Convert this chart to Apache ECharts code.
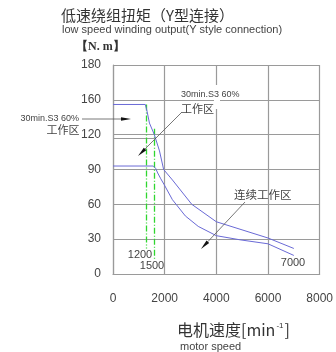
<!DOCTYPE html>
<html><head><meta charset="utf-8">
<script src="https://cdn.jsdelivr.net/npm/echarts@6/dist/echarts.min.js"></script>
<style>html,body{margin:0;padding:0;background:#fff}#c{width:336px;height:352px}</style>
</head><body><div id="c"></div>
<script>
// ---- data ----
const xTicks = [0, 2000, 4000, 6000, 8000];
const yTickLabels = ['0', '30', '60', '90', '120', '160', '180'];
const s3Speed  = [0, 1250, 1320, 1410, 1600, 1800, 1960, 2300, 3050, 4000, 6000, 7000];
const s3Torque = [146, 146, 140, 130, 120, 106, 90, 81, 60, 45, 31, 22];
const contSpeed  = [0, 1560, 1650, 1730, 1850, 1980, 2300, 2800, 3300, 4000, 4900, 6000, 7000];
const contTorque = [93, 93, 91, 87, 82, 77, 64, 50, 41, 33, 29.5, 26, 16];
const markSpeeds = [1270, 1585];
const markTop = [146, 125];
const markBottom = [22, 13];
const markLabels = ['1200', '1500'];
const endLabel = '7000';
const extraLine = [117, 0, 1650]; // torque, from speed, to speed
const titleCn = '低速绕组扭矩（Y型连接）';
const titleEn = 'low speed winding output(Y style connection)';
const unitY = '【N. m】';
const xNameCn = '电机速度[min';
const xNameEn = 'motor speed';
const noteS3 = '30min.S3 60%';
const noteWork = '工作区';
const noteCont = '连续工作区';

const chart = echarts.init(document.getElementById('c'), null, {renderer: 'canvas'});

function zip(a, b) { return a.map((v, i) => [v, b[i]]); }

const TXT = '#444';
const GRID = '#9a9a9a';
const BLUE = '#6a6ad6';

function arrow(x1, y1, x2, y2) {
  const dx = x2 - x1, dy = y2 - y1, L = Math.hypot(dx, dy);
  const ux = dx / L, uy = dy / L, px = -uy, py = ux;
  const hl = 10, hw = 1.8;
  const bx = x2 - ux * hl, by = y2 - uy * hl;
  return [
    {type: 'line', shape: {x1: x1, y1: y1, x2: bx, y2: by}, style: {stroke: '#555', lineWidth: 0.8}, z: 50},
    {type: 'polygon', shape: {points: [[x2, y2], [bx + px * hw, by + py * hw], [bx - px * hw, by - py * hw]]}, style: {fill: '#111'}, z: 50}
  ];
}

const graphics = [
  {type: 'text', left: 61, top: 8, style: {text: titleCn, fontSize: 15, fill: '#333', fontFamily: 'Noto Sans CJK SC'}},
  {type: 'text', left: 62, top: 24, style: {text: titleEn, fontSize: 11, fill: '#444', fontFamily: 'Liberation Sans'}},
  {type: 'text', left: 76, top: 41, style: {text: unitY, fontSize: 12, fontWeight: 'bold', fill: '#333', fontFamily: 'Liberation Serif'}},
  {type: 'text', left: 177, top: 322, style: {
    rich: {a: {fontSize: 16, fill: '#333', fontFamily: 'Noto Sans CJK SC'}, s: {fontSize: 8, fill: '#333', verticalAlign: 'top', padding: [0, 1, 8, 1]}},
    text: '{a|' + xNameCn + '}{s|-1}{a|]}'
  }},
  {type: 'text', left: 180, top: 341, style: {text: xNameEn, fontSize: 11, fill: '#444', fontFamily: 'Liberation Sans'}},
  // left annotation
  {type: 'text', x: 79, y: 119, style: {text: noteS3, fontSize: 9, fill: TXT, align: 'right', verticalAlign: 'middle', fontFamily: 'Liberation Sans'}, z: 50},
  {type: 'text', x: 63, y: 130, style: {text: noteWork, fontSize: 11, fill: TXT, align: 'center', verticalAlign: 'middle', fontFamily: 'Noto Sans CJK SC'}, z: 50},
  // top annotation
  {type: 'rect', shape: {x: 214, y: 85, width: 6, height: 24}, style: {fill: '#fff'}, z: 40},
  {type: 'text', x: 181, y: 95, style: {text: noteS3, fontSize: 9, fill: TXT, align: 'left', verticalAlign: 'middle', fontFamily: 'Liberation Sans'}, z: 50},
  {type: 'text', x: 181, y: 109, style: {text: noteWork, fontSize: 11, fill: TXT, align: 'left', verticalAlign: 'middle', fontFamily: 'Noto Sans CJK SC'}, z: 50},
  // continuous annotation
  {type: 'text', x: 234, y: 195, style: {text: noteCont, fontSize: 11.5, fill: TXT, align: 'left', verticalAlign: 'middle', fontFamily: 'Noto Sans CJK SC'}, z: 50},
  // labels
  {type: 'text', x: 140, y: 255, style: {text: markLabels[0], fontSize: 11, fill: TXT, align: 'center', verticalAlign: 'middle', fontFamily: 'Liberation Sans'}, z: 50},
  {type: 'text', x: 152, y: 266, style: {text: markLabels[1], fontSize: 11, fill: TXT, align: 'center', verticalAlign: 'middle', fontFamily: 'Liberation Sans'}, z: 50},
  {type: 'text', x: 293, y: 263, style: {text: endLabel, fontSize: 11, fill: TXT, align: 'center', verticalAlign: 'middle', fontFamily: 'Liberation Sans'}, z: 50}
].concat(arrow(82, 119, 131, 119), arrow(182, 112, 138, 156), arrow(245, 202, 201, 249));

chart.setOption({
  animation: false,
  backgroundColor: '#fff',
  grid: {left: 113, top: 65, width: 208.5, height: 209, containLabel: false},
  xAxis: {
    type: 'value', min: xTicks[0], max: xTicks[xTicks.length - 1], interval: 2000,
    axisLine: {show: true, lineStyle: {color: GRID, width: 1.2}},
    axisTick: {show: false},
    splitLine: {show: true, lineStyle: {color: GRID, width: 1.2}},
    axisLabel: {margin: 19, fontSize: 12, color: TXT, fontFamily: 'Liberation Sans', formatter: v => String(v)}
  },
  yAxis: {
    type: 'value', min: 0, max: 180, interval: 30,
    axisLine: {show: true, lineStyle: {color: GRID, width: 1.2}},
    axisTick: {show: false},
    splitLine: {show: true, lineStyle: {color: GRID, width: 1.2}},
    axisLabel: {margin: 12, fontSize: 12, color: TXT, fontFamily: 'Liberation Sans', formatter: v => yTickLabels[Math.round(v / 30)]}
  },
  series: [
    {type: 'line', data: zip(s3Speed, s3Torque), symbol: 'none', lineStyle: {color: BLUE, width: 1}, z: 5,
     markLine: {silent: true, symbol: 'none', label: {show: false},
       data: [[{coord: [extraLine[1], extraLine[0]]}, {coord: [extraLine[2], extraLine[0]]}]],
       lineStyle: {color: GRID, width: 1.2, type: 'solid'}
     }},
    {type: 'line', data: zip(contSpeed, contTorque), symbol: 'none', lineStyle: {color: BLUE, width: 1}, z: 5,
     markLine: {silent: true, symbol: 'none', label: {show: false},
       data: markSpeeds.map((s, i) => [{coord: [s, markTop[i]]}, {coord: [s, markBottom[i]]}]),
       lineStyle: {color: '#2fd62f', type: [6, 2, 1, 2], width: 1.3}
     }}
  ],
  graphic: graphics
});
</script>
</body></html>
